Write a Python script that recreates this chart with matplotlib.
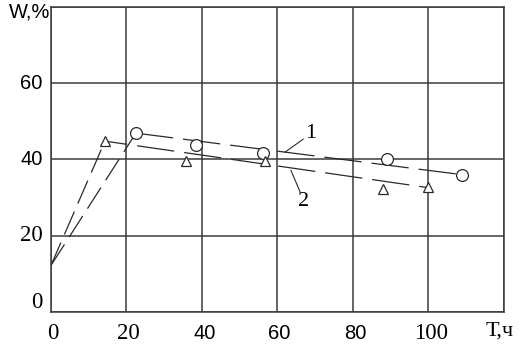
import matplotlib
matplotlib.use("Agg")
import matplotlib.pyplot as plt

# series 1 (circles) and 2 (triangles), T in hours, W in %
t1 = [22.5, 38.4, 56.2, 89.0, 109.0]
w1 = [46.9, 43.7, 41.6, 40.0, 36.0]
t2 = [14.3, 35.8, 56.7, 88.0, 100.0]
w2 = [44.8, 39.7, 39.5, 32.3, 32.8]

# fitted lines
fit1_t = [0, 22.5, 109.0]
fit1_w = [12.2, 46.9, 36.0]
fit2_t = [0, 14.3, 100.0]
fit2_w = [12.2, 44.8, 32.6]

xticks = [0, 20, 40, 60, 80, 100]
yticks = [0, 20, 40, 60]
sans_ticks = {40, 60, 80}

fig = plt.figure(figsize=(5.2, 3.47), dpi=100)
ax = fig.add_axes([0.098, 0.101, 0.871, 0.879])
ax.set_xlim(0, 120)
ax.set_ylim(0, 80)

for x in range(0, 121, 20):
    ax.axvline(x, color="#3a3a3a", lw=1.1, zorder=1)
for y in range(0, 81, 20):
    ax.axhline(y, color="#3a3a3a", lw=1.1, zorder=1)
for s in ax.spines.values():
    s.set_color("#3a3a3a")
    s.set_linewidth(1.1)

ax.set_xticks([])
ax.set_yticks([])

dash_long = (0, (30, 8))
dash_rise = (0, (20, 7))
lc = "#2a2a2a"

ax.plot(fit1_t[:2], fit1_w[:2], color=lc, lw=0.9, ls=dash_rise, zorder=2)
ax.plot(fit1_t[1:], fit1_w[1:], color=lc, lw=0.9, ls=dash_long, zorder=2)
ax.plot(fit2_t[:2], fit2_w[:2], color=lc, lw=0.9, ls=dash_rise, zorder=2)
ax.plot(fit2_t[1:], fit2_w[1:], color=lc, lw=0.9, ls=(12, (30, 8)), zorder=2)

ax.plot(t1, w1, ls="none", marker="o", ms=8.5, mfc="white", mec=lc, mew=0.9, zorder=3)
ax.plot(t2, w2, ls="none", marker="^", ms=7.5, mfc="white", mec=lc, mew=0.9, zorder=3)

# curve labels with leaders
ax.plot([62.0, 66.8], [41.9, 45.3], color=lc, lw=0.8, zorder=2)
ax.text(68.9, 46.9, "1", family="Liberation Serif", fontsize=16, ha="center", va="center")
ax.plot([63.6, 66.0], [37.1, 31.5], color=lc, lw=0.8, zorder=2)
ax.text(66.8, 28.9, "2", family="Liberation Serif", fontsize=16, ha="center", va="center")

for x in xticks:
    fam = "Liberation Sans" if x in sans_ticks else "Liberation Serif"
    fs = 14.5 if x in sans_ticks else 16.5
    ax.text(x + 0.6, -5.6, str(x), family=fam, fontsize=fs, ha="center", va="center",
            clip_on=False)
for y in yticks:
    fam = "Liberation Sans" if y in sans_ticks else "Liberation Serif"
    fs = 14.5 if y in sans_ticks else 16.5
    yy = y + 2.4 if y == 0 else y
    ax.text(-2.2, yy, str(y), family=fam, fontsize=fs, ha="right", va="center",
            clip_on=False)

ax.text(-0.3, 78.7, "W,%", family="Liberation Sans", fontsize=14.5, ha="right", va="center",
        clip_on=False)
ax.text(118.9, -5.0, "Т,ч", family="Liberation Serif", fontsize=16, ha="center", va="center",
        clip_on=False)

fig.savefig("out.png", dpi=100, facecolor="white")
